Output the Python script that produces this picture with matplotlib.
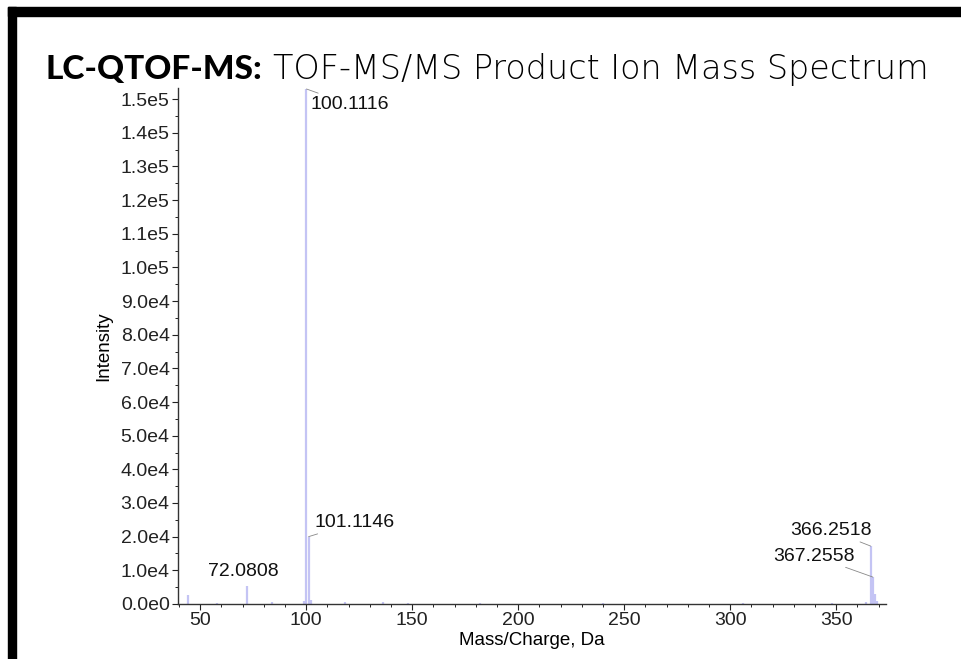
import matplotlib
matplotlib.use("Agg")
import matplotlib.pyplot as plt
from matplotlib.patches import Rectangle
from matplotlib.ticker import MultipleLocator, FuncFormatter

# peak list (m/z, intensity)
mz = [44.05, 58.07, 72.0808, 84.08, 99.10, 100.1116, 101.1146, 102.12,
      118.09, 136.08, 148.11, 182.12, 240.15, 306.20, 348.24, 364.24,
      366.2518, 367.2558, 368.26, 369.27]
intensity = [2800, 400, 5200, 500, 900, 153000, 20000, 1100,
             500, 700, 300, 300, 250, 250, 300, 600,
             17200, 8000, 3000, 900]

labels = {100.1116: "100.1116", 101.1146: "101.1146", 72.0808: "72.0808",
          366.2518: "366.2518", 367.2558: "367.2558"}

plt.rcParams['font.family'] = ['Liberation Sans', 'DejaVu Sans']

fig = plt.figure(figsize=(9.61, 6.59), dpi=100)
ax = fig.add_axes([0.1852, 0.0835, 0.7368, 0.783])

ax.vlines(mz, 0, intensity, color='#c4c4f4', lw=1.6)

ax.set_xlim(39.5, 373.5)
ax.set_ylim(0, 153300)
ax.xaxis.set_major_locator(MultipleLocator(50))
ax.xaxis.set_minor_locator(MultipleLocator(10))
ax.yaxis.set_major_locator(MultipleLocator(10000))
ax.yaxis.set_minor_locator(MultipleLocator(5000))


def sci(v, pos):
    if v == 0:
        return "0.0e0"
    e = len(str(int(round(v)))) - 1
    return f"{v / 10 ** e:.1f}e{e}"


ax.yaxis.set_major_formatter(FuncFormatter(sci))
ax.tick_params(labelsize=14, colors='#222222', length=4, width=0.8, pad=2)
ax.tick_params(which='minor', length=2, width=0.6)
for s in ['top', 'right']:
    ax.spines[s].set_visible(False)
for s in ['left', 'bottom']:
    ax.spines[s].set_color('#333333')
    ax.spines[s].set_linewidth(1.0)

ax.set_xlabel("Mass/Charge, Da", fontsize=13.5, labelpad=2)
ax.set_ylabel("Intensity", fontsize=13.5, labelpad=6)

lead = dict(arrowstyle='-', color='#888888', lw=0.6, shrinkA=0, shrinkB=0)
txt = dict(fontsize=14, color='#111111')
ax.annotate(labels[100.1116], xy=(100.1116, 153000), xytext=(3, -5),
            textcoords='offset points', ha='left', va='top', arrowprops=lead, **txt)
ax.annotate(labels[101.1146], xy=(101.1146, 20000), xytext=(4, 4),
            textcoords='offset points', ha='left', va='bottom', arrowprops=lead, **txt)
ax.annotate(labels[72.0808], xy=(72.0808, 5200), xytext=(-28, 5),
            textcoords='offset points', ha='left', va='bottom', **txt)
ax.annotate(labels[366.2518], xy=(366.2518, 17200), xytext=(1, 5),
            textcoords='offset points', ha='right', va='bottom', arrowprops=lead, **txt)
ax.annotate(labels[367.2558], xy=(367.2558, 8000), xytext=(-13, 9),
            textcoords='offset points', ha='right', va='bottom', arrowprops=lead, **txt)

# title
fig.text(0.047, 0.894, "LC-QTOF-MS:", fontsize=24, fontweight='black',
         family=['Lato', 'DejaVu Sans'], va='center', ha='left')
fig.text(0.284, 0.894, "TOF-MS/MS Product Ion Mass Spectrum", fontsize=24,
         family=['DejaVu Sans'], va='center', ha='left', fontweight='light')

# black frame
H = 659.0
W = 961.0
fig.patches.append(Rectangle((8 / W, 1 - 16 / H), 1 - 8 / W, 9 / H,
                             transform=fig.transFigure, color='black', zorder=5))
fig.patches.append(Rectangle((8 / W, 0), 8 / W, 1 - 7 / H,
                             transform=fig.transFigure, color='black', zorder=5))

fig.savefig("out.png", dpi=100)
